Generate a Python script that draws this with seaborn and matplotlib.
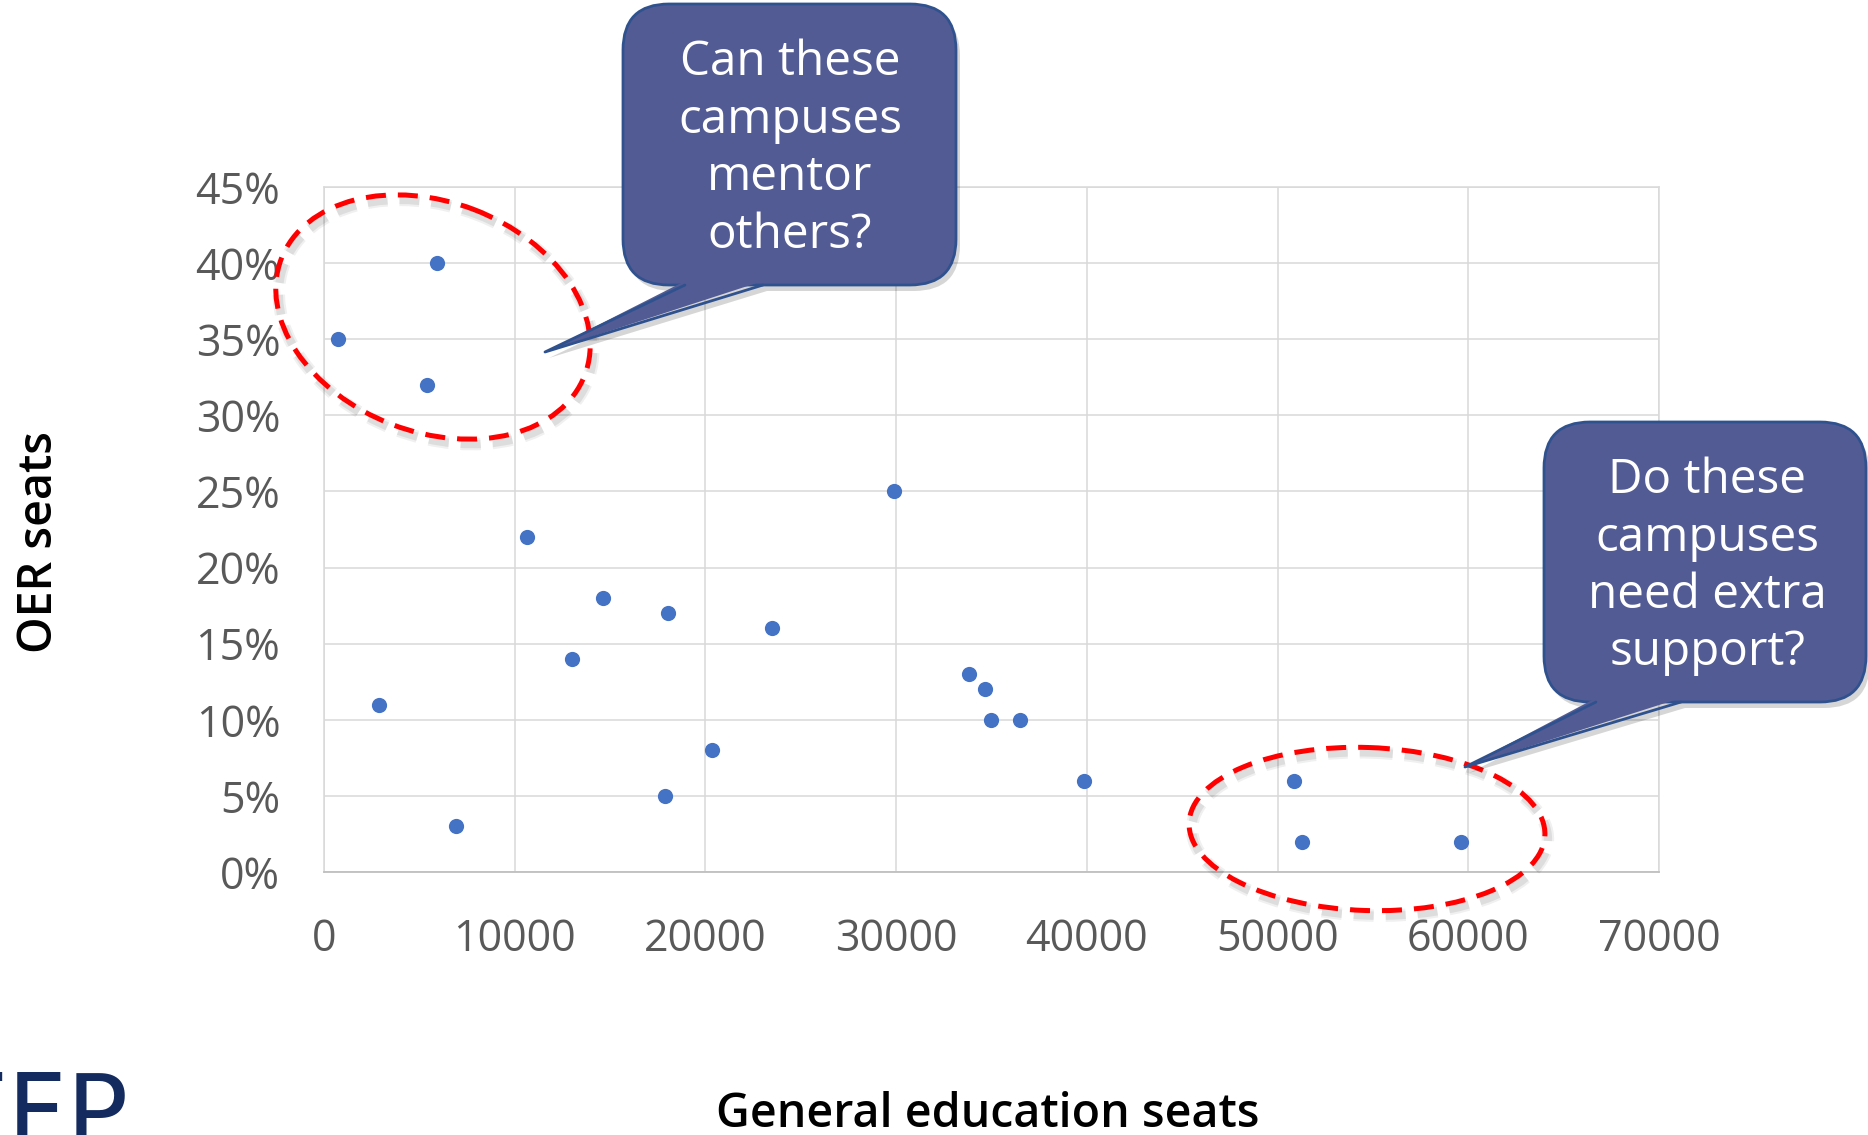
import numpy as np
import pandas as pd
import matplotlib.pyplot as plt
import seaborn as sns
from matplotlib.patches import Ellipse, FancyBboxPatch, Polygon
from matplotlib.ticker import PercentFormatter, MultipleLocator

# data
gen_ed_seats = [750, 5900, 5400, 2900, 6900, 10660, 12990, 14630, 18020, 17880, 20360,
                23480, 29900, 33800, 34660, 35000, 36500, 39830, 50880, 51300, 59600]
oer_share = [0.35, 0.40, 0.32, 0.11, 0.03, 0.22, 0.14, 0.18, 0.17, 0.05, 0.08,
             0.16, 0.25, 0.13, 0.12, 0.10, 0.10, 0.06, 0.06, 0.02, 0.02]
x_ticks = [0, 10000, 20000, 30000, 40000, 50000, 60000, 70000]
callout_top = ["Can these", "campuses", "mentor", "others?"]
callout_bottom = ["Do these", "campuses", "need extra", "support?"]

df = pd.DataFrame({"gen": gen_ed_seats, "oer": oer_share})

sns.set_theme(style="whitegrid")
plt.rcParams['font.family'] = ['Open Sans', 'DejaVu Sans']

W, H = 1868, 1135
fig = plt.figure(figsize=(W / 100, H / 100), dpi=100)
fig.patch.set_facecolor("white")
ax = fig.add_axes([324 / W, 1 - 872 / H, (1659 - 324) / W, (872 - 187) / H])

sns.scatterplot(data=df, x="gen", y="oer", ax=ax, color="#4472C4", s=120,
                linewidth=0, zorder=3)

ax.set_xlim(0, 70000)
ax.set_ylim(0, 0.45)
ax.set_xticks(x_ticks)
ax.set_xticklabels([str(t) for t in x_ticks])
ax.yaxis.set_major_locator(MultipleLocator(0.05))
ax.yaxis.set_major_formatter(PercentFormatter(1.0, decimals=0))
ax.grid(True, color="#d9d9d9", linewidth=1.1)
ax.set_facecolor("white")
for side in ["left", "right", "top"]:
    ax.spines[side].set_color("#d9d9d9")
    ax.spines[side].set_linewidth(1.1)
ax.spines["bottom"].set_color("#bfbfbf")
ax.spines["bottom"].set_linewidth(1.3)
ax.tick_params(axis="both", length=0, labelsize=31, labelcolor="#595959")
ax.tick_params(axis="y", pad=31.5)
ax.tick_params(axis="x", pad=33)

ax.set_xlabel("General education seats", fontsize=33.5, fontweight="semibold", color="black")
ax.set_ylabel("OER seats", fontsize=33.5, fontweight="semibold", color="black")
ax.xaxis.set_label_coords(988 / W, 1 - 1127 / H, transform=fig.transFigure)
ax.xaxis.label.set_verticalalignment("baseline")
ax.yaxis.set_label_coords(40 / W, 1 - 542 / H, transform=fig.transFigure)
ax.yaxis.label.set_verticalalignment("center")

# overlay in pixel units for the hand-drawn annotations
ov = fig.add_axes([0, 0, 1, 1])
ov.set_xlim(0, W)
ov.set_ylim(H, 0)
ov.axis("off")
ov.patch.set_alpha(0)

fill_c = "#535b94"
edge_c = "#2f528f"


def dashed_ellipse(cx, cy, w, h, ang):
    # soft shadow under the dashes
    for lw, a in [(9, 0.06), (6, 0.08)]:
        ov.add_patch(Ellipse((cx + 3, cy + 5), w, h, angle=ang, fill=False,
                             edgecolor="black", alpha=a, linewidth=lw,
                             linestyle=(0, (14.4 / lw, 8.6 / lw))))
    ov.add_patch(Ellipse((cx, cy), w, h, angle=ang, fill=False, edgecolor="#ff0000",
                         linewidth=3.6, linestyle=(0, (4, 2.4))))


dashed_ellipse(433, 317, 325, 230, 21)
dashed_ellipse(1367, 829, 356, 163, 2)


def callout(x0, y0, x1, y1, tail, lines, cx, base0):
    w, h = x1 - x0, y1 - y0
    ta, tb, tip = tail
    ov.add_patch(FancyBboxPatch((x0 + 4, y0 + 6), w, h, boxstyle="round,pad=0,rounding_size=46",
                                facecolor="black", edgecolor="none", alpha=0.16))
    ov.add_patch(Polygon([(ta + 4, y1 + 6), (tip[0] + 4, tip[1] + 6), (tb + 4, y1 + 6)],
                         closed=True, facecolor="black", edgecolor="none", alpha=0.16))
    ov.add_patch(FancyBboxPatch((x0, y0), w, h, boxstyle="round,pad=0,rounding_size=46",
                                facecolor=fill_c, edgecolor=edge_c, linewidth=2))
    ov.add_patch(Polygon([(ta, y1 - 4), tip, (tb, y1 - 4)], closed=True,
                         facecolor=fill_c, edgecolor="none", zorder=3))
    ov.plot([ta, tip[0], tb], [y1, tip[1], y1], color=edge_c, linewidth=2, zorder=4)
    for i, s in enumerate(lines):
        ov.text(cx, base0 + i * 57.5, s, color="white", fontsize=34.3, ha="center",
                va="baseline", zorder=5)


callout(623, 4, 956, 285, (685, 763, (545, 352)), callout_top, 790, 75)
callout(1544, 422, 1866, 702, (1596, 1681, (1465, 767)), callout_bottom, 1707, 493)

# partial logo at bottom-left
ov.text(-51, 1147, "FFP", fontsize=74, color="#132b5e", family=["DejaVu Sans"],
        ha="left", va="baseline")

fig.savefig("out.png", dpi=100)
